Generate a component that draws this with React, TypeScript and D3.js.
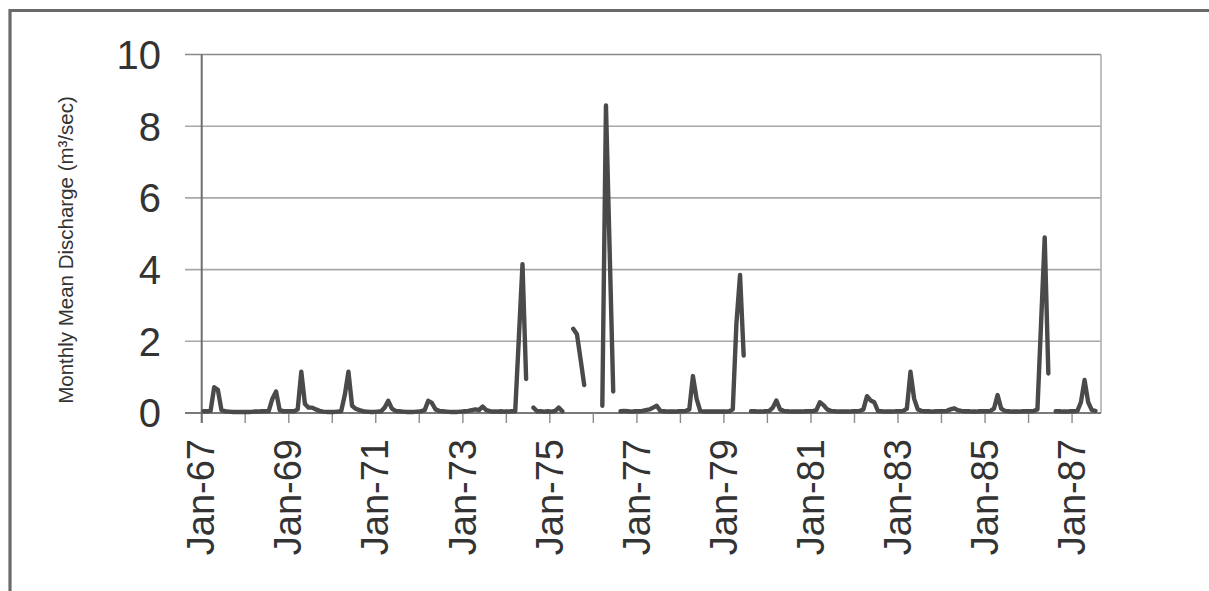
import React from 'react';
import * as d3 from 'd3';

// Monthly mean discharge (m³/sec), Jan of each year .. Dec; null = missing month
const START_YEAR = 1967;
const q1967 = [0.05, 0.05, 0.06, 0.72, 0.65, 0.08, 0.05, 0.04, 0.03, 0.03, 0.03, 0.03];
const q1968 = [0.03, 0.03, 0.04, 0.04, 0.05, 0.05, 0.05, 0.4, 0.6, 0.08, 0.05, 0.05];
const q1969 = [0.05, 0.05, 0.1, 1.15, 0.25, 0.15, 0.15, 0.1, 0.06, 0.04, 0.03, 0.03];
const q1970 = [0.03, 0.04, 0.05, 0.5, 1.15, 0.2, 0.12, 0.08, 0.05, 0.04, 0.03, 0.03];
const q1971 = [0.04, 0.05, 0.15, 0.34, 0.12, 0.06, 0.05, 0.04, 0.03, 0.03, 0.03, 0.04];
const q1972 = [0.05, 0.08, 0.34, 0.28, 0.1, 0.06, 0.05, 0.04, 0.03, 0.03, 0.03, 0.04];
const q1973 = [0.05, 0.06, 0.08, 0.1, 0.08, 0.18, 0.08, 0.05, 0.04, 0.04, 0.05, 0.04];
const q1974 = [0.04, 0.05, 0.05, 2.1, 4.15, 0.95, null, 0.15, 0.05, 0.05, 0.04, 0.05];
const q1975 = [0.04, 0.06, 0.15, 0.05, null, null, 2.35, 2.2, 1.5, 0.78, null, null];
const q1976 = [null, null, 0.2, 8.58, 4.6, 0.6, null, 0.05, 0.06, 0.05, 0.04, 0.05];
const q1977 = [0.05, 0.06, 0.08, 0.1, 0.15, 0.2, 0.06, 0.05, 0.04, 0.04, 0.04, 0.05];
const q1978 = [0.05, 0.06, 0.1, 1.03, 0.4, 0.06, 0.04, 0.04, 0.04, 0.04, 0.04, 0.04];
const q1979 = [0.04, 0.05, 0.1, 2.5, 3.85, 1.6, null, 0.05, 0.05, 0.04, 0.04, 0.05];
const q1980 = [0.06, 0.15, 0.35, 0.1, 0.06, 0.05, 0.04, 0.04, 0.04, 0.04, 0.05, 0.05];
const q1981 = [0.05, 0.08, 0.3, 0.22, 0.1, 0.06, 0.05, 0.04, 0.04, 0.04, 0.04, 0.05];
const q1982 = [0.05, 0.06, 0.1, 0.47, 0.35, 0.3, 0.06, 0.05, 0.04, 0.04, 0.04, 0.05];
const q1983 = [0.05, 0.06, 0.12, 1.15, 0.4, 0.1, 0.06, 0.05, 0.05, 0.04, 0.05, 0.05];
const q1984 = [0.05, 0.06, 0.1, 0.13, 0.08, 0.06, 0.05, 0.05, 0.04, 0.04, 0.05, 0.05];
const q1985 = [0.05, 0.06, 0.12, 0.5, 0.12, 0.06, 0.05, 0.04, 0.04, 0.04, 0.05, 0.05];
const q1986 = [0.05, 0.06, 0.1, 2.5, 4.9, 1.1, null, 0.05, 0.05, 0.04, 0.04, 0.05];
const q1987 = [0.05, 0.06, 0.3, 0.92, 0.3, 0.08, 0.06];

const yearlySeries: (number | null)[][] = [
  q1967, q1968, q1969, q1970, q1971, q1972, q1973, q1974, q1975, q1976, q1977,
  q1978, q1979, q1980, q1981, q1982, q1983, q1984, q1985, q1986, q1987,
];

const yTickValues = [0, 2, 4, 6, 8, 10];
const yGridValues = [2, 4, 6, 8, 10];
const xLabelYears = [1967, 1969, 1971, 1973, 1975, 1977, 1979, 1981, 1983, 1985, 1987];
const yTitle = 'Monthly Mean Discharge (m³/sec)';

const FONT = '"Liberation Sans", Arial, Helvetica, sans-serif';

export default function App() {
  const W = 1209;
  const H = 591;
  const left = 201.7;
  const right = 1101;
  const top = 54.5;
  const bottom = 413;

  const x = d3
    .scaleTime()
    .domain([new Date(START_YEAR, 0, 1), new Date(1987, 8, 1)])
    .range([left, right]);
  const y = d3.scaleLinear().domain([0, 10]).range([bottom, top]);

  const values = yearlySeries.flat();
  const points = values.map((v, i) => ({
    v,
    cx: (x(new Date(START_YEAR, i, 1)) + x(new Date(START_YEAR, i + 1, 1))) / 2,
  }));

  const line = d3
    .line<{ v: number | null; cx: number }>()
    .defined((d) => d.v != null)
    .x((d) => d.cx)
    .y((d) => y(d.v as number));

  const yearTicks = d3.timeYear.range(new Date(START_YEAR, 0, 1), new Date(1987, 8, 2));
  const fmt = d3.timeFormat('%b-%y');

  return (
    <svg
      width={W}
      height={H}
      style={{ position: 'absolute', left: 0, top: 0, background: '#fff' }}
    >
      <rect x={0} y={0} width={W} height={H} fill="#ffffff" />
      {/* outer frame */}
      <path d={`M10,${H} V10.5 H${W}`} fill="none" stroke="#6a6a6a" strokeWidth={3.2} />

      {/* gridlines with outward y ticks */}
      {yGridValues.map((v) => (
        <line
          key={'g' + v}
          x1={185}
          x2={right}
          y1={y(v)}
          y2={y(v)}
          stroke={v === 10 ? '#8a8a8a' : '#a8a8a8'}
          strokeWidth={1.6}
        />
      ))}
      {/* right plot border */}
      <line x1={right} x2={right} y1={top} y2={bottom} stroke="#b0b0b0" strokeWidth={1.6} />

      {/* x axis */}
      <line x1={185} x2={right} y1={bottom} y2={bottom} stroke="#7a7a7a" strokeWidth={2} />
      {yearTicks.map((d) => (
        <line
          key={'t' + d.getFullYear()}
          x1={x(d)}
          x2={x(d)}
          y1={bottom}
          y2={bottom + 10}
          stroke="#8a8a8a"
          strokeWidth={1.4}
        />
      ))}
      {/* y axis */}
      <line x1={left} x2={left} y1={top} y2={bottom + 10} stroke="#6e6e6e" strokeWidth={2} />

      {/* data line */}
      <path
        d={line(points) || ''}
        fill="none"
        stroke="#4a4a4a"
        strokeWidth={4.4}
        strokeLinejoin="round"
        strokeLinecap="round"
      />

      {/* y tick labels */}
      {yTickValues.map((v) => (
        <text
          key={'yl' + v}
          x={161}
          y={y(v)}
          dy="0.36em"
          textAnchor="end"
          fontFamily={FONT}
          fontSize={40}
          fill="#333"
        >
          {v}
        </text>
      ))}

      {/* x tick labels */}
      {xLabelYears.map((yr) => {
        const d = new Date(yr, 0, 1);
        const tx = x(d) - 1;
        return (
          <text
            key={'xl' + yr}
            transform={`translate(${tx},439) rotate(-90)`}
            dy="0.36em"
            textAnchor="end"
            fontFamily={FONT}
            fontSize={38}
            fill="#333"
          >
            {fmt(d)}
          </text>
        );
      })}

      {/* y axis title */}
      <text
        transform={`translate(66,250) rotate(-90)`}
        dy="0.35em"
        textAnchor="middle"
        fontFamily={FONT}
        fontSize={20.5}
        fill="#333"
      >
        {yTitle}
      </text>
    </svg>
  );
}
